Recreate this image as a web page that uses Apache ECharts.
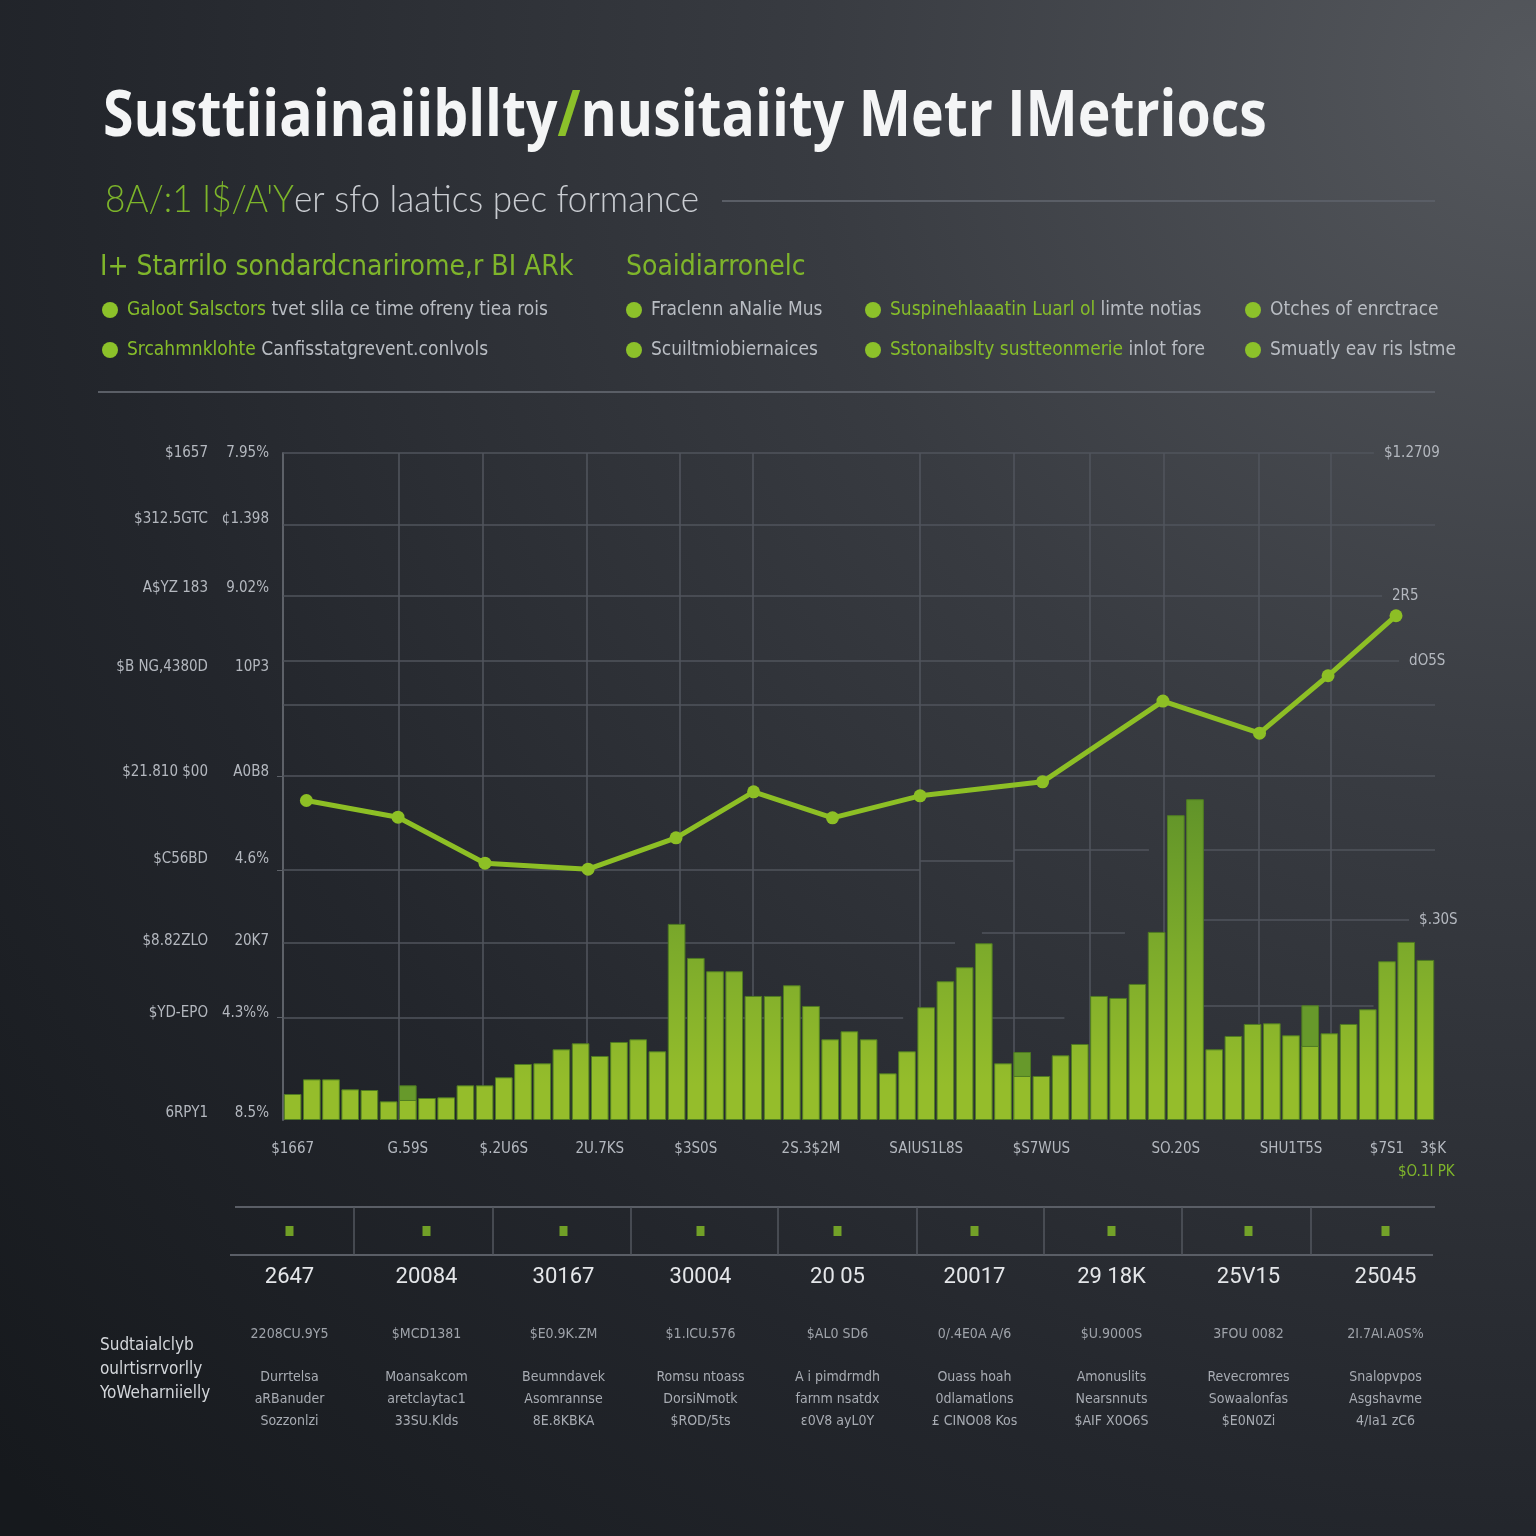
<!DOCTYPE html>
<html><head><meta charset="utf-8">
<script src="https://cdn.jsdelivr.net/npm/echarts@6/dist/echarts.min.js"></script>
<style>html,body{margin:0;padding:0;background:#1d2026}#c{width:1536px;height:1536px}</style>
</head><body><div id="c"></div>
<script>
// ---------- data ----------
const barValues = [3.9,6.1,6.1,4.6,4.5,2.8,3.0,3.3,3.4,5.2,5.2,6.4,8.4,8.5,10.6,11.5,9.6,11.7,12.1,10.3,
  29.4,24.3,22.3,22.3,18.6,18.6,20.2,17.1,12.1,13.3,12.1,7.0,10.3,16.9,20.8,22.9,26.5,8.5,6.6,6.6,
  9.7,11.4,18.6,18.3,20.4,28.2,45.7,48.1,10.6,12.6,14.4,14.5,12.7,11.1,13.0,14.4,16.6,23.8,26.7,24.0];
const spikeValues = barValues.map(()=>null);
spikeValues[6] = 5.2; spikeValues[38] = 10.2; spikeValues[53] = 17.2;
const lineX = [1.22,5.99,10.52,15.89,20.47,24.51,28.62,33.18,39.56,45.83,50.86,54.43,57.97];
const lineY = [47.9,45.4,38.5,37.6,42.3,49.2,45.3,48.6,50.7,62.8,58.0,66.6,75.6];
const yLabelPos = [1,16,26.8,39.1,52.2,67.9,79.8,90.1,100];
const yLabelsInner = ['8.5%','4.3%%','20K7','4.6%','A0B8','10P3','9.02%','¢1.398','7.95%'];
const yLabelsOuter = ['6RPY1','$YD-EPO','$8.82ZLO','$C56BD','$21.810 $00','$B NG,4380D','A$YZ 183','$312.5GTC','$1657'];
const xLabelIdx = [0,6,11,16,21,27,33,39,46,52,57];
const xLabels = ['$1667','G.59S','$.2U6S','2U.7KS','$3S0S','2S.3$2M','SAIUS1L8S','$S7WUS','SO.20S','SHU1T5S','$7S1'];
const vGrid = [6.04,10.42,15.83,20.68,24.48,33.18,38.07,42.03,45.89,50.83,54.58];
const hGrid = [ // [fromX, toX, y, rightLabel]
  [0,56.82,100,'$1.2709'],[0,60,89.2,''],[0,57.24,78.6,'2R5'],[0,58.13,68.8,'dO5S'],
  [0,60,62.2,''],[0,60,51.6,''],[0,33.18,37.5,''],[33.18,38.07,38.8,''],[38.07,45.1,40.5,''],
  [47.34,60,40.5,''],[47.4,58.65,30.0,'$.30S'],[0,35.0,26.5,''],[36.4,43.85,28.0,''],
  [0,32.3,15.4,''],[36.4,40.7,15.4,''],[47.4,56.8,17.2,'']];
const years = ['2647','20084','30167','30004','20 05','20017','29 18K','25V15','25045'];
const yearSub = ['2208CU.9Y5','$MCD1381','$E0.9K.ZM','$1.ICU.576','$AL0 SD6','0/.4E0A A/6','$U.9000S','3FOU 0082','2I.7AI.A0S%'];
const yearDesc = [
  ['Durrtelsa','aRBanuder','Sozzonlzi'],['Moansakcom','aretclaytac1','33SU.Klds'],
  ['Beumndavek','Asomrannse','8E.8KBKA'],['Romsu ntoass','DorsiNmotk','$ROD/5ts'],
  ['A i pimdrmdh','farnm nsatdx','ε0V8 ayL0Y'],['Ouass hoah','0dlamatlons','£ CINO08 Kos'],
  ['Amonuslits','Nearsnnuts','$AIF X0O6S'],['Revecromres','Sowaalonfas','$E0N0Zi'],
  ['Snalopvpos','Asgshavme','4/Ia1 zC6']];
const yearMarks = years.map(()=>0);
const legendItems = [ // [col, row, greenPart, grayPart]
  [0,0,'Galoot Salsctors',' tvet slila ce time ofreny tiea rois'],
  [1,0,'','Fraclenn aNalie Mus'],
  [2,0,'Suspinehlaaatin Luarl ol',' limte notias'],
  [3,0,'','Otches of enrctrace'],
  [0,1,'Srcahmnklohte',' Canfisstatgrevent.conlvols'],
  [1,1,'','Scuiltmiobiernaices'],
  [2,1,'Sstonaibslty sustteonmerie',' inlot fore'],
  [3,1,'','Smuatly eav ris lstme']];

// ---------- styles ----------
const GREEN = '#8cc12a', TXT = '#b4b8bf', GRIDC = '#50545c';
const NARROW = "'Liberation Sans Narrow','DejaVu Sans Condensed',Roboto,sans-serif";
const legendColX = [110, 634, 873, 1253], legendRowY = [310, 350];

const graphics = [];
graphics.push({type:'text', x:103, y:118, scaleX:0.865, style:{
  text:'{a|Susttiiainaiibllty}{g|/}{a|nusitaiity Metr IMetriocs}', verticalAlign:'middle',
  rich:{a:{fill:'#f4f5f6', fontSize:64, fontWeight:'bold', fontFamily:"'Open Sans',sans-serif"},
        g:{fill:'#8cc12a', fontSize:64, fontWeight:'bold', fontFamily:"'Open Sans',sans-serif"}}}});
graphics.push({type:'text', x:105, y:200, scaleX:0.925, style:{
  text:"{g|8A/:1 I$/A'Y}{w|er sfo laatics pec formance}", verticalAlign:'middle',
  rich:{g:{fill:'#7db52a', fontSize:38, fontWeight:300, fontFamily:"Lato,'Open Sans',sans-serif"},
        w:{fill:'#c9ccd1', fontSize:38, fontWeight:300, fontFamily:"Lato,'Open Sans',sans-serif"}}}});
graphics.push({type:'line', shape:{x1:722,y1:201,x2:1435,y2:201}, style:{stroke:'#5a5e66', lineWidth:2}});
graphics.push({type:'text', x:100, y:268, style:{text:'I+ Starrilo sondardcnarirome,r BI ARk', fill:'#7fb52b',
  fontSize:28, fontFamily:NARROW, verticalAlign:'middle'}});
graphics.push({type:'text', x:626, y:268, style:{text:'Soaidiarronelc', fill:'#7fb52b',
  fontSize:28, fontFamily:NARROW, verticalAlign:'middle'}});
legendItems.forEach(it=>{
  const cx = legendColX[it[0]], cy = legendRowY[it[1]];
  graphics.push({type:'circle', shape:{cx:cx, cy:cy, r:8}, style:{fill:GREEN}});
  graphics.push({type:'text', x:cx+17, y:cy, style:{text:'{g|'+it[2]+'}{w|'+it[3]+'}', verticalAlign:'middle',
    rich:{g:{fill:'#86bd2a', fontSize:19, fontFamily:NARROW}, w:{fill:'#b9bdc3', fontSize:19, fontFamily:NARROW}}}});
});
graphics.push({type:'line', shape:{x1:98,y1:392,x2:1435,y2:392}, style:{stroke:'#5a5e66', lineWidth:2}});
graphics.push({type:'text', x:1420, y:1149, style:{text:'3$K', fill:TXT, fontSize:15, fontFamily:NARROW, verticalAlign:'middle'}});
graphics.push({type:'text', x:1398, y:1172, style:{text:'$O.1I PK', fill:'#7fb52b', fontSize:15, fontFamily:NARROW, verticalAlign:'middle'}});
// table frame
graphics.push({type:'line', shape:{x1:235,y1:1207,x2:1435,y2:1207}, style:{stroke:'#5a5e66', lineWidth:2}});
graphics.push({type:'line', shape:{x1:230,y1:1255,x2:1433,y2:1255}, style:{stroke:'#5a5e66', lineWidth:2}});
[354,493,631,778,917,1044,1182,1311].forEach(x=>{
  graphics.push({type:'line', shape:{x1:x,y1:1207,x2:x,y2:1255}, style:{stroke:'#53575f', lineWidth:1.5}});
});
['Sudtaialclyb','oulrtisrrvorlly','YoWeharniielly'].forEach((t,i)=>{
  graphics.push({type:'text', x:100, y:1346+i*24, style:{text:t, fill:'#d3d6da', fontSize:17, fontFamily:NARROW, verticalAlign:'middle'}});
});

const markData = [];
vGrid.forEach(x=>markData.push([{coord:[x,0]},{coord:[x,100]}]));
hGrid.forEach(h=>{
  const end = {coord:[h[1],h[2]]};
  const item = [{coord:[h[0],h[2]]}, end];
  if (h[3]) item[0].label = {show:true, position:'end', formatter:h[3], color:TXT, fontSize:15, fontFamily:NARROW, distance:10};
  markData.push(item);
});

const chart = echarts.init(document.getElementById('c'), null, {renderer:'canvas'});
chart.setOption({
  animation:false,
  backgroundColor:{type:'radial', x:1, y:0.05, r:1.35, colorStops:[
    {offset:0,color:'#55585d'},{offset:0.35,color:'#383b41'},{offset:0.7,color:'#23262c'},{offset:1,color:'#16191d'}]},
  graphic:graphics,
  grid:[
    {left:283, right:101, top:453, bottom:1536-1120, containLabel:false},
    {left:221, right:82, top:1207, bottom:1536-1255, containLabel:false}
  ],
  xAxis:[
    {type:'category', gridIndex:0, data:barValues.map((v,i)=>i), axisLine:{show:false}, axisTick:{show:false},
     axisLabel:{interval:0, margin:22, color:TXT, fontSize:15, fontFamily:NARROW,
       formatter:(v,i)=>{const k=xLabelIdx.indexOf(i); return k>=0?xLabels[k]:'';}}, splitLine:{show:false}},
    {type:'value', gridIndex:0, min:0, max:60, show:false},
    {type:'category', gridIndex:1, data:years, axisLine:{show:false}, axisTick:{show:false},
     axisLabel:{interval:0, margin:7,
       formatter:(v,i)=>'{y|'+v+'}\n{s| }\n{v|'+yearSub[i]+'}\n{s2| }\n{d|'+yearDesc[i][0]+'}\n{d|'+yearDesc[i][1]+'}\n{d|'+yearDesc[i][2]+'}',
       rich:{y:{fontSize:22, color:'#e4e6e9', lineHeight:30, fontFamily:"Roboto,sans-serif"},
             s:{fontSize:8, lineHeight:30}, s2:{fontSize:8, lineHeight:20},
             v:{fontSize:14, color:'#9fa3aa', lineHeight:24, fontFamily:NARROW},
             d:{fontSize:14, color:'#a8acb3', lineHeight:22, fontFamily:NARROW}}},
     splitLine:{show:false}}
  ],
  yAxis:[
    {type:'value', gridIndex:0, min:0, max:100, axisLine:{show:true, lineStyle:{color:'#5d6168', width:2}},
     axisTick:{show:true, customValues:[15.4,37.5,51.6], length:6, lineStyle:{color:'#5d6168'}},
     splitLine:{show:false},
     axisLabel:{customValues:yLabelPos, margin:14, color:TXT, fontSize:15, fontFamily:NARROW,
       formatter:(v)=>{const k=yLabelPos.indexOf(v); return k>=0?yLabelsInner[k]:'';}}},
    {type:'value', gridIndex:0, min:0, max:100, position:'left', offset:61, axisLine:{show:false}, axisTick:{show:false},
     splitLine:{show:false},
     axisLabel:{customValues:yLabelPos, margin:14, color:TXT, fontSize:15, fontFamily:NARROW,
       formatter:(v)=>{const k=yLabelPos.indexOf(v); return k>=0?yLabelsOuter[k]:'';}}},
    {type:'value', gridIndex:1, min:-1, max:1, show:false}
  ],
  series:[
    {type:'line', xAxisIndex:1, yAxisIndex:0, data:[[0,0]], symbol:'none', lineStyle:{opacity:0}, z:1, silent:true,
     markLine:{silent:true, symbol:'none', z:1, lineStyle:{color:GRIDC, width:1.6, type:'solid'}, label:{show:false}, data:markData}},
    {type:'bar', xAxisIndex:0, yAxisIndex:0, data:spikeValues, barGap:'-100%', barCategoryGap:'8%', z:2,
     itemStyle:{color:'#67992b', borderColor:'#4d7a22', borderWidth:1}},
    {type:'bar', xAxisIndex:0, yAxisIndex:0, data:barValues, barGap:'-100%', barCategoryGap:'8%', z:3,
     itemStyle:{borderColor:'#4f7c22', borderWidth:1,
       color:{type:'linear', x:0, y:790, x2:0, y2:1085, global:true,
         colorStops:[{offset:0,color:'#5f9229'},{offset:0.55,color:'#7dab2b'},{offset:1,color:'#95bd2b'}]}}},
    {type:'line', xAxisIndex:1, yAxisIndex:0, data:lineX.map((x,i)=>[x,lineY[i]]), z:5,
     lineStyle:{color:'#8dbf25', width:5}, itemStyle:{color:'#8dbf25'}, symbol:'circle', symbolSize:13},
    {type:'scatter', xAxisIndex:2, yAxisIndex:2, data:yearMarks, symbol:'rect', symbolSize:[8,10],
     itemStyle:{color:'#86bf27'}}
  ]
});
</script></body></html>
